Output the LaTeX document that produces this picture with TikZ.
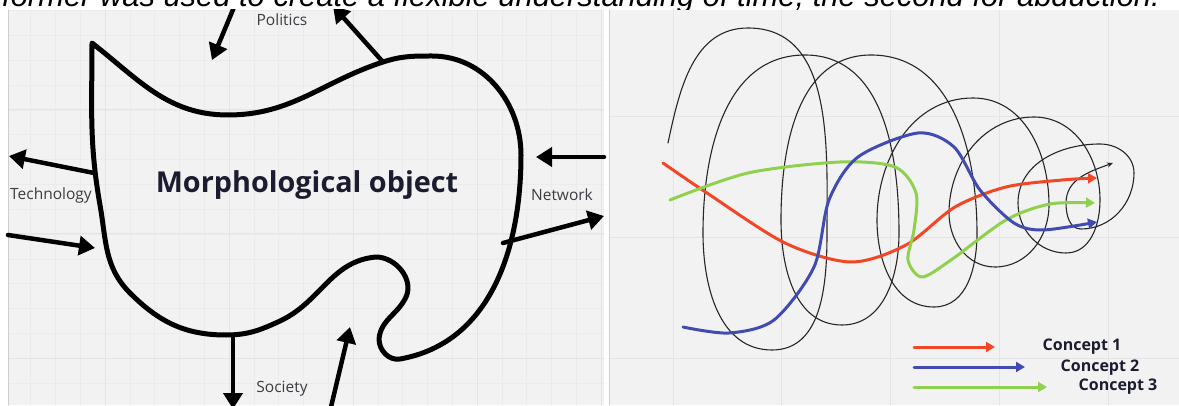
\documentclass[tikz,border=0pt]{standalone}
\usepackage{fontspec}
\setmainfont{Open Sans}
\newfontfamily\capfont{Liberation Sans}
\usetikzlibrary{arrows.meta}
\definecolor{panel}{RGB}{242,242,242}
\definecolor{gridmaj}{RGB}{228,228,228}
\definecolor{gridmin}{RGB}{235,235,235}
\definecolor{edgegrey}{RGB}{205,205,205}
\definecolor{lbltext}{RGB}{60,60,66}
\definecolor{conctext}{RGB}{28,28,48}
\definecolor{Cred}{RGB}{242,71,38}
\definecolor{Cblue}{RGB}{65,75,178}
\definecolor{Cgreen}{RGB}{143,209,79}
\tikzset{
  bigarrow/.style={line width=4.5pt,-{Triangle[length=16pt,width=19pt]}},
  concarrow/.style={line width=3pt,-{Triangle[length=9pt,width=10pt]}},
  lbl/.style={text=lbltext,inner sep=1pt,font=\fontsize{15.5}{17}\selectfont},
  conc/.style={text=conctext,inner sep=1pt,font=\bfseries\fontsize{16}{18}\selectfont},
  coil/.style={line width=1.1pt,black!85}
}

\begin{document}
\begin{tikzpicture}[x=1pt,y=1pt,line cap=round,line join=round]
\useasboundingbox (0,0) rectangle (1179,405);
\fill[white] (0,0) rectangle (1179,405);
% caption, cut by the panels
\node[anchor=base west,inner sep=0pt,font=\capfont\itshape\fontsize{30.9}{34}\selectfont] (caption) at (2,398)
  {former was used to create a flexible understanding of time, the second for abduction.};
% panels
\fill[panel] (8,0) rectangle (604,395);
\fill[panel] (609,0) rectangle (1179,395);
\draw[gridmin,line width=0.6pt,shift={(105,47)}] (-97,-47) grid[step=24.8] (499,348);
\draw[gridmaj,line width=1pt,shift={(105,47)}] (-97,-47) grid[step=124] (499,348);
\draw[gridmaj,line width=1pt,shift={(673,47)}] (-64,-47) grid[xstep=108.8,ystep=120.5] (506,348);
\draw[edgegrey,line width=1pt] (8.5,0) -- (8.5,395);
\draw[edgegrey,line width=1.2pt] (609.6,0) -- (609.6,395);

\begin{scope}
\clip (0,0) rectangle (1179,395);
% morphological object
\draw[line width=5pt] (92,362) to[out=-38,in=180] (228,290) to[out=0,in=198] (383,343)
  to[out=18,in=180] (432,349) to[out=0,in=90] (521,250) to[out=-90,in=10] (400,46)
  to[out=190,in=-90] (379,66) to[out=85,in=-115] (406,108) to[out=65,in=0] (376,148)
  to[out=185,in=25] (280,84) to[out=205,in=0] (226,70) to[out=180,in=-45] (130,112)
  to[out=135,in=-80] (100,200) to[out=100,in=-90] (92,362) -- cycle;
\node[text=conctext,font=\bfseries\fontsize{28.8}{32}\selectfont] (morph) at (307,220) {Morphological object};

\coordinate (polIn0) at (237,405);  \coordinate (polIn1) at (212,345);
\coordinate (polOut0) at (383,343); \coordinate (polOut1) at (333,399);
\coordinate (techOut0) at (94,232); \coordinate (techOut1) at (9,249);
\coordinate (techIn0) at (8,170);   \coordinate (techIn1) at (95,157);
\coordinate (netIn0) at (604,248);  \coordinate (netIn1) at (536,248);
\coordinate (netOut0) at (503,162); \coordinate (netOut1) at (604,189);
\coordinate (socOut0) at (233,70);  \coordinate (socOut1) at (233,-4);
\coordinate (socIn0) at (331,-2);   \coordinate (socIn1) at (350,78);
\draw[bigarrow] (polIn0) -- (polIn1);
\draw[bigarrow] (polOut0) -- (polOut1);
\draw[bigarrow] (techOut0) -- (techOut1);
\draw[bigarrow] (techIn0) -- (techIn1);
\draw[bigarrow] (netIn0) -- (netIn1);
\draw[bigarrow] (netOut0) -- (netOut1);
\draw[bigarrow] (socOut0) -- (socOut1);
\draw[bigarrow] (socIn0) -- (socIn1);
\end{scope}

\node[lbl] (politics) at (282,385) {Politics};
\node[lbl] (technology) at (51,210) {Technology};
\node[lbl] (network) at (562,210) {Network};
\node[lbl] (society) at (282,16) {Society};

% coil
\draw[coil,-{Stealth[length=6pt,width=5pt]}] (668,262)
  to[out=78,in=180] (748,377) to[out=0,in=90] (827,172)
  to[out=-90,in=0] (772,55) to[out=180,in=-90] (703,172)
  to[out=90,in=180] (805,350) to[out=0,in=90] (899,172)
  to[out=-90,in=0] (842,80) to[out=180,in=-90] (781,185)
  to[out=90,in=180] (871,350) to[out=0,in=90] (977,172)
  to[out=-90,in=0] (934,98) to[out=180,in=-90] (877,185)
  to[out=90,in=180] (973,307) to[out=0,in=90] (1049,200)
  to[out=-90,in=0] (995,138) to[out=180,in=-90] (949,192)
  to[out=90,in=180] (1034,288) to[out=0,in=90] (1100,205)
  to[out=-90,in=0] (1066,152) to[out=180,in=-90] (1018,202)
  to[out=90,in=180] (1100,261) to[out=0,in=90] (1134,232)
  to[out=-90,in=0] (1081,176) to[out=180,in=-90] (1066,202)
  to[out=90,in=200] (1113,242);

% concepts
\draw[Cred,concarrow] plot[smooth] coordinates {(663,242) (707,212) (785,162) (851,143)
  (906,160) (955,198) (1006,218) (1062,225) (1097,227)};
\draw[Cgreen,concarrow] plot[smooth] coordinates {(670,205) (748,232) (840,243) (895,238)
  (916,212) (914,175) (908,145) (922,128) (951,145) (1006,185) (1050,201) (1095,202)};
\draw[Cblue,concarrow] plot[smooth] coordinates {(683,78) (729,72) (774,85) (814,138)
  (829,205) (858,248) (918,272) (954,258) (980,215) (1014,182) (1043,175) (1097,183)};

% legend
\coordinate (l1a) at (914,58);  \coordinate (l1b) at (995,58);
\coordinate (l2a) at (914,38);  \coordinate (l2b) at (1025,38);
\coordinate (l3a) at (914,18);  \coordinate (l3b) at (1047,18);
\draw[Cred,concarrow] (l1a) -- (l1b);
\draw[Cblue,concarrow] (l2a) -- (l2b);
\draw[Cgreen,concarrow] (l3a) -- (l3b);
\node[conc] (concept1) at (1082,58) {Concept 1};
\node[conc] (concept2) at (1100,37) {Concept 2};
\node[conc] (concept3) at (1118,18) {Concept 3};
\end{tikzpicture}
\end{document}
